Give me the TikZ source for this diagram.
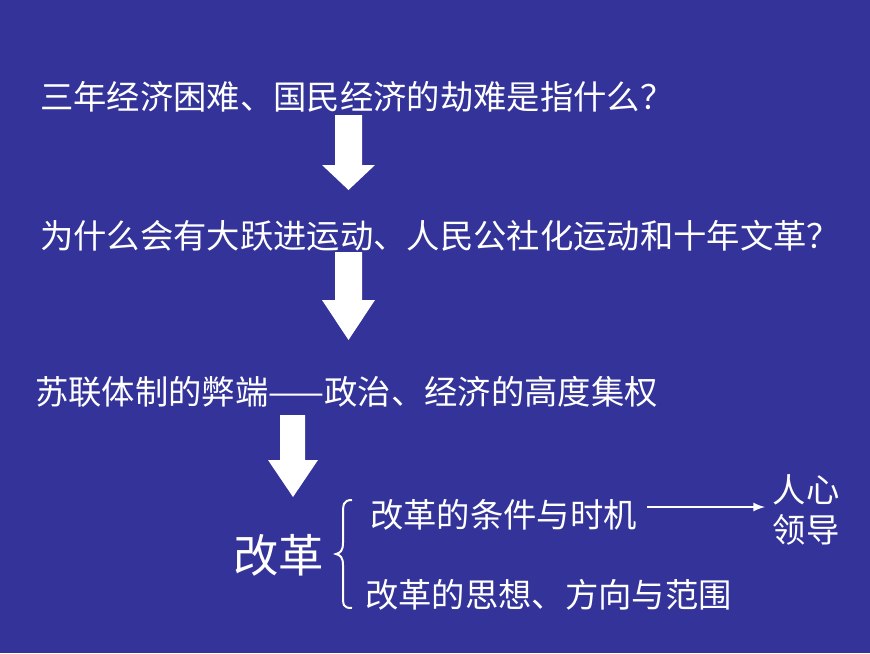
\documentclass[tikz,border=0pt]{standalone}
\usepackage{fontspec}
\setmainfont{Noto Sans CJK SC}
\begin{document}
\begin{tikzpicture}[x=0.75pt,y=-0.75pt,
  txt/.style={text=white,anchor=west,inner sep=0pt,font=\fontsize{25}{28}\selectfont},
  barrow/.style={fill=white,draw=none}]
\fill[fill={rgb,255:red,51;green,51;blue,153}] (0,0) rectangle (870,653);
\useasboundingbox (0,0) rectangle (870,653);
\node[txt] (q1) at (40,97) {三年经济困难、国民经济的劫难是指什么？};
\node[txt] (q2) at (40,236) {为什么会有大跃进运动、人民公社化运动和十年文革？};
\node[txt] (q3) at (35,392) {苏联体制的弊端——政治、经济的高度集权};
\fill[barrow] (335,115)--(362,115)--(362,165)--(375,165)--(348.5,190)--(322,165)--(335,165)--cycle;
\fill[barrow] (335,252)--(362,252)--(362,300)--(375,300)--(348.5,340)--(322,300)--(335,300)--cycle;
\fill[barrow] (280,415)--(305,415)--(305,460)--(318,460)--(293,497)--(268,460)--(280,460)--cycle;
\node[txt,font=\fontsize{34}{38}\selectfont] (gg) at (233,555) {改革};
\draw[white,line width=1.5pt] (352,500) .. controls (343,500) and (343,505) .. (343,515) -- (343,543) .. controls (343,551) and (340,553) .. (336,554) .. controls (340,555) and (343,557) .. (343,565) -- (343,595) .. controls (343,605) and (343,608) .. (352,608);
\node[txt] (c1) at (370,515) {改革的条件与时机};
\node[txt] (c2) at (365,595) {改革的思想、方向与范围};
\node[txt,anchor=center] (r1) at (806,490) {人心};
\node[txt,anchor=center] (r2) at (806,530) {领导};
\coordinate (ae) at (765,507);
\draw[white,line width=2pt,-latex] (c1.east)++(10,-8) -- (ae);
\end{tikzpicture}
\end{document}
